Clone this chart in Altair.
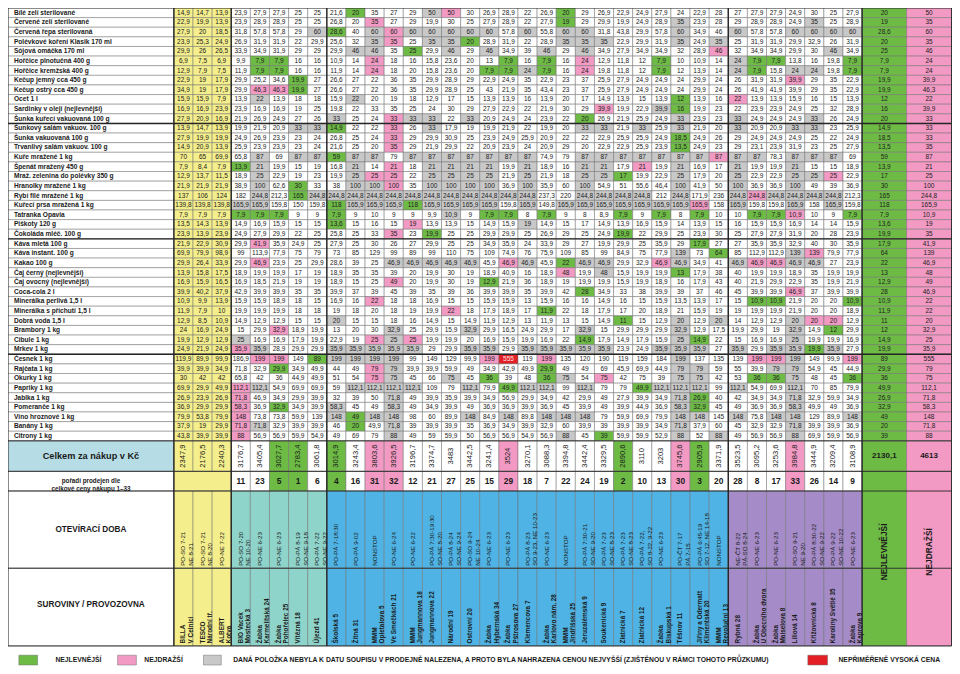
import altair as alt
import pandas as pd

# ---------------- data ----------------
products = [
    "Bílé zelí sterilované", "Červené zelí sterilované", "Červená řepa sterilovaná",
    "Polévkové koření Klasik 170 ml", "Sójová omáčka 170 ml", "Hořčice plnotučná 400 g",
    "Hořčice kremžská 400 g", "Kečup jemný cca 450 g", "Kečup ostrý cca 450 g", "Ocet 1 l",
    "Sardinky v oleji (nejlevnější)", "Šunka kuřecí vakuovaná 100 g", "Šunkový salám vakuov. 100 g",
    "Šunka vakuovaná 100 g", "Trvanlivý salám vakuov. 100 g", "Kuře mražené 1 kg",
    "Špenát mražený 450 g", "Mraž. zelenina do polévky 350 g", "Hranolky mražené 1 kg",
    "Rybí filé mražené 1 kg", "Kuřecí prsa mražená 1 kg", "Tatranka Opavia", "Piškoty 120 g",
    "Čokoláda mléč. 100 g", "Káva mletá 100 g", "Káva instant. 100 g", "Kakao 100 g",
    "Čaj černý (nejlevnější)", "Čaj ovocný (nejlevnější)", "Coca-cola 2 l",
    "Minerálka perlivá 1,5 l", "Minerálka s příchutí 1,5 l", "Dobrá voda 1,5 l", "Brambory 1 kg",
    "Cibule 1 kg", "Mrkev 1 kg", "Česnek 1 kg", "Rajčata 1 kg", "Okurky 1 kg", "Papriky 1 kg",
    "Jablka 1 kg", "Pomeranče 1 kg", "Víno hroznové 1 kg", "Banány 1 kg", "Citrony 1 kg",
]

prices = [
    [14.9,14.7,13.9,23.9,27.9,27.9,25,25, 21.6,20,35,27,29,50,50,30,26.9,28.9,22,26.9,20,29,26.9,22.9,24.9, 27.9,24,22.9,28,27,27.9,27.9,24.9,30,25,27.9],
    [22.9,19.9,13.9,23.9,28.9,28.9,25,25, 26.8,20,35,27,29,19.9,30,25,27.9,28.9,22,27.9,19,29,29.9,19.9,24.9, 28.9,35,23.9,28,29,28.9,28.9,24.9,35,25,28.9],
    [27.9,20,18.5,31.8,57.8,57.8,29,60, 28.6,40,60,60,60,60,60,60,60,57.8,60,55.8,60,60,31.8,43.8,29.9, 57.8,60,34.9,46,60,57.8,57.8,60,60,60,60],
    [23.9,25.3,24.9,26.9,31.9,31.9,22,29.9, 25.6,32,35,35,25,35,35,20,28.9,31.9,22,28.9,35,35,35,22.9,29.9, 31.9,35,24.9,35,25,31.9,31.9,29.9,32.9,26,31.9],
    [29.9,26,26.5,33.9,34.9,31.9,29,29, 29.9,46,46,35,25,29.9,46,29,46,34.9,39,46,29,46,34.9,27.9,34.9, 34.9,32,28.9,46,32,34.9,34.9,29.9,30,46,34.9],
    [6.9,7.5,6.9,9.9,7.9,7.9,16,16, 10.9,14,24,18,16,15.8,23.6,20,13,7.9,16,7.9,16,24,12.9,11.8,12, 7.9,10,10.9,14,24,7.9,7.9,13.8,16,19.8,7.9],
    [12.9,7.9,7.5,11.9,7.9,7.9,16,16, 11.9,14,24,18,20,15.8,23.6,20,7.9,7.9,24,7.9,16,24,19.8,11.8,12, 7.9,12,13.9,14,24,7.9,15.8,24,24,19.8,7.9],
    [22.9,19,17.9,29.9,25.2,34.6,19.9,27, 26.6,27,22,36,35,29.9,28.9,29,22.9,24.9,35,22.9,23,37,25.9,27.9,24.9, 24.9,24,29.9,24,26,31.9,31.9,39.9,29,35,22.9],
    [34.9,19,17.9,29.9,46.3,46.3,19.9,27, 26.6,27,22,36,35,29.9,28.9,25,43,21.9,35,43.4,23,37,25.9,27.9,24.9, 24.9,24,29.9,24,26,41.9,41.9,39.9,29,35,22.9],
    [15.9,15.9,7.9,13.9,22,13.9,18,18, 15.9,22,20,19,18,12.9,17,15,13.9,13.9,16,13.9,20,17,14.9,13.9,15, 13.9,12,13.9,16,22,13.9,13.9,15.9,16,15,13.9],
    [16.9,16.9,23.9,23.9,16.9,16.9,19,25, 19.8,22,33,35,25,24,30,29,27.9,22.9,22,21.9,30,29,39.9,19.9,22.9, 39.9,16,19.9,23,22,23.9,23.9,24.9,25,32,28.9],
    [27.9,20.9,16.9,21.9,26.9,24.9,27,26, 33,25,24,33,33,33,22,33,20.9,24.9,24,23.9,22,20,26.9,21.9,25.9, 24.9,33,23.9,23,33,24.9,24.9,24.9,33,26,24.9],
    [13.9,14.7,13.9,19.9,21.9,20.9,33,33, 14.9,22,22,33,26,33,17.9,19,19.9,21.9,22,19.9,20,33,33,21.9,33, 25.9,33,21.9,20,33,20.9,20.9,33,33,23,25.9],
    [27.9,19.9,19.9,24.9,26.9,23.9,23,24, 26.8,25,24,33,29,29.9,30.9,25,23.9,24.9,25.9,20.9,22,22,22.9,25.9,25.9, 24.9,18.5,24.9,26,29,24.9,24.9,24.9,25,22,24.9],
    [14.9,20.9,13.9,25.9,23.9,23.9,23,24, 21.6,25,20,35,29,21.9,29.9,22,20.9,23.9,24,20.9,29,20,22.9,22.9,25.9, 23.9,13.5,24.9,23,29,23.1,23.9,31.9,23,25,27.9],
    [70,65,69.9,65.8,87,69,87,87, 59,87,87,79,87,87,87,87,87,87,87,74.9,79,87,87,87,87, 87,87,87,87,87,87,78.3,87,87,87,69],
    [7.9,8.4,7.9,13.9,21,19.9,15,19, 16.8,21,14,21,18,21,21,21,21,19.9,21,18.9,16,21,21,17.9,21, 19.9,21,16.9,17,21,19.9,19.9,21,15,15,18.9],
    [12.9,13.7,11.5,18.9,25,22.9,19,23, 19.9,25,25,25,22,25,25,25,25,21.9,25,21.9,18,25,25,17,19.9, 22.9,25,17.9,20,25,22.9,22.9,25,25,25,22.9],
    [21.9,21.9,21.9,38.9,100,62.6,30,33, 38,100,100,100,35,100,100,100,100,36.9,100,35.9,60,100,54.9,51,55.6, 46.4,100,41.9,50,100,36.9,36.9,100,49,39,36.9],
    [137,106,124,182,244.8,212.3,165,244.8, 244.8,244.8,244.8,244.8,244.8,244.8,244.8,244.8,244.8,244.8,244.8,237.3,220,244.8,244.8,244.8,244.8, 212,244.8,171.9,236,244.8,244.8,244.8,244.8,244.8,244.8,212.3],
    [139.8,139.8,139.8,165.9,165.9,159.8,150,159.8, 118,165.9,165.9,165.9,118,165.9,165.9,165.9,165.9,159.8,165.9,149.8,165.9,165.9,165.9,165.9,165.9, 165.9,165.9,165.9,158,165.9,159.8,159.8,165.9,158,165.9,159.8],
    [7.9,7.9,7.9,7.9,7.9,7.9,9,9, 7.9,9,10,9,9,9.9,10.9,9,7.9,7.9,8,7.9,9,8,8.9,7.9,9, 7.9,8,7.9,10,10,7.9,7.9,10.9,10,9,7.9],
    [13.5,14.3,13.9,14.9,16.9,15.9,15,15, 13.6,15,16,15,19,13.9,13.9,15,14.9,15.9,19,14.9,15,17,14.9,13.9,16.9, 15.9,14,13.9,15,16,15.9,15.9,16.9,14,14,15.9],
    [23.9,13.9,23.9,24.9,27.9,29.9,22,25, 25.8,25,33,35,23,19.9,25,25,29.9,29.9,25,26.9,29,25,24.9,19.9,22, 29.9,25,23.9,30,25,27.9,27.9,31.9,20,28,23.9],
    [21.9,22.9,30.9,29.9,41.9,35.9,24.9,25, 27.9,25,30,26,27,29.9,25,25,34.9,35.9,24,33.9,29,27,19.9,29.9,25, 35.9,29,17.9,27,27,35.9,35.9,32.9,40,30,35.9],
    [69.9,79.9,98.9,99,113.9,77.9,75,79, 73,85,129,99,89,99,110,75,109,74.9,76,75.9,109,85,99,84.9,75, 77.9,139,73,64,85,112.9,112.9,139,139,79.9,77.9],
    [29.9,26.4,33.9,29.9,46.9,23.9,25,29.9, 28.6,39,25,46.9,46.9,46.9,46.9,46.9,45.9,46.9,46.9,45.9,22,46.9,46.9,29.9,32.9, 46.9,46.9,34.9,41,46.9,46.9,46.9,46.9,46.9,27,23.9],
    [13.9,15.8,17.5,18.9,19.9,19.9,17,19, 18.9,35,35,39,20,19.9,30,19,18.9,40.9,16,18.9,48,19.9,48,15.9,19.9, 19.9,13,17.9,38,40,19.9,19.9,18.9,35,19.9,19.9],
    [16.9,15.9,16.5,16.9,18.5,21.9,19,19, 18.9,15,25,49,20,19.9,30,19,12.9,21.9,36,18.9,19,19.9,19.9,15.9,19.9, 18.9,16,17.9,43,40,21.9,29.9,22.9,35,19.9,21.9],
    [39.9,40.2,37.9,42.9,39.9,39.9,35,35, 39.9,37,39,45,39,35,39,36,39.9,39.9,35,39.9,42,28,34.9,33,38, 39.9,39,37,46,45,39.9,39.9,46.9,37,39.9,39.9],
    [10.9,9.9,13.9,15.9,15.9,18.9,18,15, 16.9,16,22,18,18,16.9,15,15,15.9,15.9,13,15.9,16,16,14.9,16,15, 15.9,13.5,13.9,17,15,10.9,10.9,21.9,20,20,10.9],
    [11.9,7.9,10,19.9,19.9,19.9,18,18, 19,18,20,18,19,19.9,22,18,17.9,18.9,17,11.9,22,18,17.9,17,20, 18.9,21,15.9,19,19,19.9,19.9,21.9,20,20,18.9],
    [12.9,8.5,10.9,14.9,12.9,12.9,15,15, 20,15,15,18,16,14.9,15,14.9,11.9,12.9,13,11.9,13,15,14.9,11,15, 12.9,20,12.9,20,14,12.9,12.9,20,20,20,12.9],
    [24,16.9,24.9,15,29.9,32.9,18.9,19.9, 13,20,30,32.9,25,29.9,15.9,32.9,29.9,16.5,24.9,29.9,17,32.9,15,29.9,29.9, 29.9,32.9,12.9,17.5,19.9,29.9,19,32.9,14.9,12,29.9],
    [19.9,12.9,12.9,25,16.9,16.9,17.9,19.9, 22.9,19,25,25,25,19.9,19.9,20,16.9,15.9,19.9,16.9,22,14.9,17.9,14.9,17.9, 15.9,25,14.9,22,15,16.9,16.9,25,19.9,19.9,16.9],
    [24.9,21.9,24.9,35.9,35.9,28.9,29.9,29.9, 35.9,35.9,35.9,35.9,35.9,29,29.9,35.9,35.9,29.9,35.9,35.9,35.9,35.9,35.9,23.9,24.9, 35.9,35.9,35.9,27,35.9,29.9,35.9,35.9,19.9,35.9,27.9],
    [119.9,89.9,99.9,186.9,199,199,149,89, 199,199,199,199,99,149,129,99.9,199,555,119,199,135,120,190,119,159, 184,199,137,135,139,199,199,199,149,99.9,199],
    [39.9,39.9,34.9,71.8,32.9,29.9,34.9,49.9, 44,49,79,79,39.9,39.9,59.9,49,34.9,42.9,49.9,29.9,49,49,69,45.9,69.9, 44.9,79,79,59,55,39.9,79,79,54.9,45,44.9],
    [30,42,42,65.8,42,36,44.9,49.9, 51,54,75,75,45,66,75,45,36,39,48,36,75,54,75,42,75, 39,75,75,42,53,36,36,75,48,45,36],
    [69.9,29.9,49.9,112.1,112.1,54.9,69.9,69.9, 59,112.1,112.1,112.1,112.1,109,79,112.1,79.9,49.9,112.1,112.1,99,112.1,79,79,49.9, 112.1,112.1,112.1,99,112.1,54.9,69.9,112.1,70,85,79.9],
    [26.9,23.9,26.9,71.8,46.9,34.9,29.9,39.9, 32,39,50,71.8,49,39.9,35.9,39.9,34.9,56.9,29.9,34.9,42,29.9,49,27.9,39.9, 34.9,71.8,26.9,40,42,34.9,34.9,71.8,32.9,59.9,34.9],
    [36.9,29.9,29.9,58.3,36.9,32.9,34.9,39.9, 58.3,45,49,58.3,49,34.9,39.9,49,36.9,36.9,39.9,36.9,45,39.9,49,39.9,44.9, 36.9,58.3,32.9,45,49,36.9,36.9,58.3,49.9,49,36.9],
    [79.9,53.8,79.9,148,73.8,73.8,59.9,139, 148,49,148,148,98,60,89.9,148,84.9,148,89.8,148,148,148,79,59.9,69.9, 79.9,148,148,145,148,75.8,148,148,129,89.9,148],
    [37.9,19,29.9,71.8,71.8,32.9,39.9,39.9, 46,20,49.9,71.8,39,39.9,39.9,35,36.9,34.9,39.9,32.9,60,39.9,39,39.9,39.9, 34.9,71.8,37.9,60,45,32.9,32.9,71.8,39.9,39.9,36.9],
    [43.8,39.9,39.9,88,56.9,56.9,59.9,54.9, 49,69,79,88,49,59,59.9,50,56.9,56.9,54.9,56.9,88,45,39,59.9,59.9, 52.9,88,52,88,49,56.9,56.9,88,69.9,59.9,56.9],
]

# status of a cell: g = cheapest, p = most expensive, s = not found (replaced), r = unreasonable
flags = [
    "10g 14s 15p 21g", "11p 21g 27s 34s",
    "8s 9g 11s 12p 13s 14s 15s 16s 17s 19s 21s 22s 27s 30s 33s 34s 35s 36s",
    "11s 12p 14s 15s 16g 21s 22s 23s 27s 29s", "10s 11s 13g 15s 17s 20s 22s 29p 35s",
    "5g 6g 11p 18g 20g 22p 26g 30s 31g 32g 36g",
    "5g 6g 11p 17g 18g 19s 20g 22p 26g 30s 31g 33s 34s 36g",
    "7g 33p", "5p 6p 7g", "5s 10s 27g 30p", "23p 26s 27g",
    "9s 12p 13s 14s 16s 22g 27s 30s 34s",
    "7s 8s 9g 12p 14s 22s 23s 25s 27s 30s 33s 34s",
    "12p 27g", "12p 27g",
    "5s 7s 8s 9g 10s 11s 13s 14s 15s 16s 17s 18s 19s 22s 23s 24s 25s 26s 27s 28s 29p 30s 31s 33s 34s 35s",
    "4g 5s 10s 12p 14s 15s 16s 17s 19s 22s 23s 25p 27s 30s 33s",
    "5s 10s 11p 12p 14s 15s 16s 17s 19s 22s 23s 24g 27s 30s 33s 34s 35p",
    "5s 7g 10s 11s 12p 14s 15s 16s 17s 19s 22s 27s 30s 33s",
    "5s 7g 8s 9s 10s 11s 12s 13s 14s 15s 16s 17s 18s 19s 22s 23s 24s 25s 27s 30s 31p 32s 33s 34s 35s",
    "4s 5s 9g 10s 11s 12s 13g 14s 15s 16s 17s 19s 21s 22s 23s 24s 25s 26s 27s 28p 30s 33s 35s",
    "4g 5g 6g 9g 15s 17g 18g 20g 24g 26g 28g 31g 32g 33p 36g",
    "9g 13p 19s", "12p 14g 24g", "5p 28g", "27s 29g 33s 34p",
    "5p 12s 13s 14s 15s 16s 18p 19s 21g 22s 23s 26p 27s 30s 31p 32p 33s 34s",
    "21p 23s 27g", "12p 17g", "22g 33p", "11p 31g 32g 36g", "15p 20g",
    "9s 24g 27s 29s 33s 34p 35p", "6p 12s 16s 22s 27s 33s 35g",
    "4s 11p 12s 13p 22g 27s 28g 33s",
    "4p 5s 9s 10s 11s 12s 13s 16s 17s 19s 20s 21s 22s 23s 26s 27s 28s 30s 32s 33s 34g 35s",
    "5p 6p 8g 9s 10s 11s 12s 17p 18r 20p 27s 31p 32p 33s 36p",
    "6g 11p 12s 20g 27s 28s 32s 33s",
    "11p 12s 15s 17g 20g 21s 23p 27s 28s 31g 32g 33s 36g",
    "4p 5s 10s 11s 12s 13s 16s 18g 19s 20s 22s 25g 26s 27s 28s 30s 33s",
    "4p 12s 27s 28g 33s", "4p 6g 9s 12s 27s 28g 33s",
    "4p 9s 10g 11s 12s 16s 18s 20s 21s 22s 27s 28s 30s 32s 33s 36s",
    "4p 5s 10g 12s 27s 33s", "4p 12s 21s 23g 27s 29s 33s",
]

row_min = [20,19,28.6,20,25,7.9,7.9,19.9,19.9,12,16,20,14.9,18.5,13.5,59,13.9,17,30,165,118,7.9,13.6,19.9,
           17.9,64,22,13,12.9,28,10.9,11.9,11,12,14.9,19.9,89,29.9,36,49.9,26.9,32.9,49,20,39]
row_max = [50,35,60,35,46,24,24,39.9,46.3,22,39.9,33,33,33,35,87,21,25,100,244.8,165.9,10.9,19,35,41.9,139,
           46.9,48,49,46.9,22,22,20,32.9,25,35.9,555,79,75,112.1,71.8,58.3,148,71.8,88]

stores = [
    "BILLA\nV Celnici", "TESCO\nNárodní tř.", "ALBERT\nKotva", "BIO Vacek\nMostecká 3",
    "Žabka\nKarmelitská 24", "Žabka\nPohořelec 25", "Vítězná 18", "Újezd 41", "Školská 5",
    "Žitná 31", "MMM\nOpletalova 5", "Ve Smečkách 21", "MMM\nJungmannova 18", "Jungmannova 22",
    "Národní 19", "Ostrovní 20", "Žabka\nHybernská 34", "Žabka\nPštrosova 27", "Klemencova 7",
    "Žabka\nKarlovo nám. 28", "MMM\nJindřišská 25", "Jeruzalémská 9", "Soukenická 9",
    "Zlatnická 7", "Zlatnická 12", "Žabka\nBiskupská 1", "Těšnov 11",
    "Jiřiny a Odermatt\nKlimentská 20", "MMM\nRevoluční 13", "Rybná 28", "Žabka\nU Obecního dvora",
    "Žabka\nMaiselova 8", "Liliová 14", "Křižovnická 8", "Karoliny Světlé 35", "Žabka\nKaprova 9",
]
store_group = ["chain"] * 3 + ["teal"] * 5 + ["blue"] * 21 + ["purple"] * 7

hours = [
    "PO-SO 7-21\nNE 8-21", "PO-SO 7-21\nNE 8-20", "PO-NE 7-22", "PO-SO 7-20\nNE 10-20",
    "PO-NE 6-23", "PO-NE 6-23", "PO-PÁ 8-19\nSO-NE 9-18", "PO-PÁ 7-22\nSO-NE 9-22",
    "PO-PÁ 7-18:30", "PO-PÁ 9-02", "NONSTOP", "PO-NE 6-24", "PO-NE 6-22",
    "PO-PÁ 7:30-19:30\nSO-NE 8-20", "PO-PÁ 8-24\nSO-NE 9-24", "PO-SO 9-24\nNE 10-24",
    "PO-NE 6-23", "PO-NE 6-23", "PO-PÁ 8-23\nSO 9-23, NE 10-23", "PO-NE 6-23", "NONSTOP",
    "PO-PÁ 7:30-21\nSO-NE 9-20", "PO-PÁ 7-23\nSO-NE 8-23", "PO-PÁ 7-23\nSO-NE 8-23",
    "PO-PÁ 7-22,\nSO 8-22, 9-22", "PO-NE 6-23", "PO-ČT 7-17\nPÁ 7-15",
    "PO-PÁ 6:45-19\nSO 7-12, NE 14-18", "NONSTOP", "NE-ČT 8-22\nPÁ-SO 8-24", "PO-NE 6-23",
    "PO-NE 6-23", "PO-SO 9-21\nNE 9-20", "PO-PÁ 8:30-22\nSO-NE 9-22", "PO-PÁ 9-22\nSO-NE 10-22",
    "PO-NE 6-23",
]

totals = [2347.9, 2176.5, 2240.3, 3176.7, 3405.4, 3027.7, 2783.4, 3061.8, 3014.9, 3243.4, 3803.6,
          3926.5, 3196.7, 3374.7, 3483, 3442.5, 3241.4, 3524, 3270.1, 3088.3, 3394.8, 3442.4, 3329.5,
          2890.6, 3110, 3203, 3745.6, 2905.9, 3371.9, 3523.5, 3095.2, 3253.6, 3984.8, 3444.9, 3209.4,
          3108.9]
total_min = 2130.1
total_max = 4613
ranks = [11, 23, 5, 1, 6, 4, 16, 31, 32, 12, 21, 27, 25, 15, 29, 18, 7, 22, 24, 19, 2, 10, 13, 30, 3,
         20, 28, 8, 17, 33, 26, 14, 9]

legend_items = [
    ("g", "NEJLEVNĚJŠÍ"), ("p", "NEJDRAŽŠÍ"),
    ("s", "DANÁ POLOŽKA NEBYLA K DATU SOUPISU V PRODEJNĚ NALEZENA, A PROTO BYLA NAHRAZENA CENOU NEJVYŠŠÍ (ZJIŠTĚNOU V RÁMCI TOHOTO PRŮZKUMU)"),
    ("r", "NEPŘIMĚŘENĚ VYSOKÁ CENA"),
]

# ---------------- styling / layout ----------------
for r in prices:
    assert len(r) == 36, r
FONT = "Liberation Sans"
C = {"g": "#6dbb45", "p": "#f29ac4", "s": "#c8c8c8", "r": "#e31e25", ".": "#ffffff",
     "chain": "#f4ee8c", "teal": "#8fd4ca", "blue": "#4fb4e5", "purple": "#a58cc8",
     "head": "#b6dde6"}
N = 36
X0, XL, CW = 2.0, 170.0, 19.36
XR = XL + N * CW
NJ1 = (XR, 912.0)
NJ2 = (912.0, 957.5)
Y0, RH = 3.0, 9.78
YB = Y0 + 45 * RH
YT = (YB, YB + 31.0)
YR = (YT[1], YT[1] + 20.0)
YH = (YR[1], YR[1] + 78.5)
YS = (YH[1], YH[1] + 79.0)


def fmt(v):
    v = float(v)
    if v.is_integer():
        return str(int(v))
    return ("%.1f" % v).replace(".", ",")


def parse(s):
    d = {}
    for tok in s.split():
        d[int(tok[:-1]) - 1] = tok[-1]
    return d


def cxl(c):
    return XL + c * CW


rects, body, labels = [], [], []
for r in range(45):
    ya, yb = Y0 + r * RH, Y0 + (r + 1) * RH
    ym = (ya + yb) / 2
    rects.append(dict(x=X0, x2=XL, y=ya, y2=yb, fill="#ffffff"))
    labels.append(dict(x=X0 + 6, y=ym, t=products[r]))
    fl = parse(flags[r])
    for c in range(N):
        code = fl.get(c, ".")
        fill = C["chain"] if c < 3 else C[code]
        rects.append(dict(x=cxl(c), x2=cxl(c + 1), y=ya, y2=yb, fill=fill))
        body.append(dict(x=cxl(c) + CW / 2, y=ym, t=fmt(prices[r][c]),
                         tc="#ffe0e0" if code == "r" else "#222222"))
    rects.append(dict(x=NJ1[0], x2=NJ1[1], y=ya, y2=yb, fill=C["g"]))
    rects.append(dict(x=NJ2[0], x2=NJ2[1], y=ya, y2=yb, fill=C["p"]))
    body.append(dict(x=sum(NJ1) / 2, y=ym, t=fmt(row_min[r]), tc="#222222"))
    body.append(dict(x=sum(NJ2) / 2, y=ym, t=fmt(row_max[r]), tc="#222222"))


def rank_fill(c):
    if c < 3:
        return C["chain"]
    k = ranks[c - 3]
    return C["g"] if k <= 5 else (C["p"] if k >= 29 else "#ffffff")


heads = []
# totals row
rects.append(dict(x=X0, x2=XL, y=YT[0], y2=YT[1], fill=C["head"]))
heads.append(dict(x=(X0 + XL) / 2, y=sum(YT) / 2, t="Celkem za nákup v Kč", s=9.2, a=0))
tot_txt = []
for c in range(N):
    rects.append(dict(x=cxl(c), x2=cxl(c + 1), y=YT[0], y2=YT[1], fill=rank_fill(c)))
    tot_txt.append(dict(x=cxl(c) + CW / 2, y=sum(YT) / 2, t=fmt(totals[c])))
rects.append(dict(x=NJ1[0], x2=NJ1[1], y=YT[0], y2=YT[1], fill=C["g"]))
rects.append(dict(x=NJ2[0], x2=NJ2[1], y=YT[0], y2=YT[1], fill=C["p"]))
tot_ext = [dict(x=sum(NJ1) / 2, y=sum(YT) / 2, t=fmt(total_min)),
           dict(x=sum(NJ2) / 2, y=sum(YT) / 2, t=fmt(total_max))]

# rank row
rects.append(dict(x=X0, x2=XL, y=YR[0], y2=YR[1], fill="#ffffff"))
heads.append(dict(x=(X0 + XL) / 2, y=sum(YR) / 2,
                  t="pořadí prodejen dle\ncelkové ceny nákupu  1–33", s=6.3, a=0))
rects.append(dict(x=cxl(0), x2=cxl(3), y=YR[0], y2=YR[1], fill=C["chain"]))
rank_txt = []
for c in range(3, N):
    rects.append(dict(x=cxl(c), x2=cxl(c + 1), y=YR[0], y2=YR[1], fill=rank_fill(c)))
    rank_txt.append(dict(x=cxl(c) + CW / 2, y=sum(YR) / 2, t=str(ranks[c - 3])))
rects.append(dict(x=NJ1[0], x2=NJ1[1], y=YR[0], y2=YS[1], fill=C["g"]))
rects.append(dict(x=NJ2[0], x2=NJ2[1], y=YR[0], y2=YS[1], fill=C["p"]))
heads.append(dict(x=sum(NJ1) / 2, y=556, t="NEJLEVNĚJŠÍ", s=8.4, a=270))
heads.append(dict(x=sum(NJ2) / 2, y=556, t="NEJDRAŽŠÍ", s=8.4, a=270))

# opening hours + store rows
rects.append(dict(x=X0, x2=XL, y=YH[0], y2=YH[1], fill="#ffffff"))
rects.append(dict(x=X0, x2=XL, y=YS[0], y2=YS[1], fill="#ffffff"))
heads.append(dict(x=(X0 + XL) / 2, y=sum(YH) / 2, t="OTEVÍRACÍ DOBA", s=8.2, a=0))
heads.append(dict(x=(X0 + XL) / 2, y=sum(YS) / 2 - 2, t="SUROVINY / PROVOZOVNA", s=8.2, a=0))
hrs_txt, sto_txt = [], []
for c in range(N):
    g = C[store_group[c]]
    rects.append(dict(x=cxl(c), x2=cxl(c + 1), y=YH[0], y2=YH[1], fill=g))
    rects.append(dict(x=cxl(c), x2=cxl(c + 1), y=YS[0], y2=YS[1], fill=g))
    hrs_txt.append(dict(x=cxl(c) + CW / 2, y=YH[1] - 2.5, t=hours[c]))
    sto_txt.append(dict(x=cxl(c) + CW / 2, y=YS[1] - 2.5, t=stores[c]))

# legend
leg_box_x = [(13, 32), (113, 132), (200, 218), (812, 832)]
leg_txt_x = [50, 140, 230, 843]
leg_txt = []
for (code, txt), (a, b), tx in zip(legend_items, leg_box_x, leg_txt_x):
    rects.append(dict(x=a, x2=b, y=661, y2=671, fill=C[code]))
    leg_txt.append(dict(x=tx, y=666, t=txt))

# separator lines
rules = []
for xv in [XL, cxl(3), cxl(8), cxl(29), XR]:
    rules.append(dict(x=xv, x2=xv, y=Y0, y2=YS[1], w=1.4))
for rr in [12, 24, 36]:
    yv = Y0 + rr * RH
    rules.append(dict(x=X0, x2=NJ2[1], y=yv, y2=yv, w=1.4))
for yv in [Y0, YB, YT[1], YR[1], YH[1], YS[1]]:
    rules.append(dict(x=X0, x2=NJ2[1], y=yv, y2=yv, w=0.9))
for xv in [X0, NJ2[1]]:
    rules.append(dict(x=xv, x2=xv, y=Y0, y2=YS[1], w=0.9))

# ---------------- chart ----------------
xs = alt.Scale(domain=[2, 958], nice=False, zero=False)
ys = alt.Scale(domain=[3, 672], nice=False, zero=False, reverse=True)
X = alt.X("x:Q", scale=xs, axis=None)
Y = alt.Y("y:Q", scale=ys, axis=None)

rect_layer = alt.Chart(pd.DataFrame(rects)).mark_rect(stroke="#707070", strokeWidth=0.5).encode(
    x=X, x2="x2:Q", y=Y, y2="y2:Q", fill=alt.Fill("fill:N", scale=None))
rule_layer = alt.Chart(pd.DataFrame(rules)).mark_rule(color="#262626").encode(
    x=X, x2="x2:Q", y=Y, y2="y2:Q", strokeWidth=alt.StrokeWidth("w:Q", scale=None))
body_layer = alt.Chart(pd.DataFrame(body)).mark_text(
    font=FONT, fontSize=6.5, align="center", baseline="middle").encode(
    x=X, y=Y, text="t:N", color=alt.Color("tc:N", scale=None))
label_layer = alt.Chart(pd.DataFrame(labels)).mark_text(
    font=FONT, fontSize=6.6, fontWeight="bold", align="left", baseline="middle", color="#1a1a1a").encode(
    x=X, y=Y, text="t:N")
tot_layer = alt.Chart(pd.DataFrame(tot_txt)).mark_text(
    font=FONT, fontSize=7.6, angle=270, align="center", baseline="middle", color="#1a1a1a").encode(
    x=X, y=Y, text="t:N")
tot_ext_layer = alt.Chart(pd.DataFrame(tot_ext)).mark_text(
    font=FONT, fontSize=8, fontWeight="bold", align="center", baseline="middle", color="#1a1a1a").encode(
    x=X, y=Y, text="t:N")
rank_layer = alt.Chart(pd.DataFrame(rank_txt)).mark_text(
    font=FONT, fontSize=8.4, fontWeight="bold", align="center", baseline="middle", color="#1a1a1a").encode(
    x=X, y=Y, text="t:N")
hrs_layer = alt.Chart(pd.DataFrame(hrs_txt)).mark_text(
    font=FONT, fontSize=6.2, angle=270, align="left", baseline="middle", lineBreak="\n",
    lineHeight=7.6, color="#1a1a1a").encode(x=X, y=Y, text="t:N")
sto_layer = alt.Chart(pd.DataFrame(sto_txt)).mark_text(
    font=FONT, fontSize=6.4, fontWeight="bold", angle=270, align="left", baseline="middle",
    lineBreak="\n", lineHeight=7.4, color="#1a1a1a").encode(x=X, y=Y, text="t:N")
head_layer = alt.Chart(pd.DataFrame(heads)).mark_text(
    font=FONT, fontWeight="bold", align="center", baseline="middle", lineBreak="\n",
    lineHeight=8, color="#1a1a1a").encode(
    x=X, y=Y, text="t:N", size=alt.Size("s:Q", scale=None), angle=alt.Angle("a:Q", scale=None))
leg_layer = alt.Chart(pd.DataFrame(leg_txt)).mark_text(
    font=FONT, fontSize=6.8, fontWeight="bold", align="left", baseline="middle", color="#1a1a1a").encode(
    x=X, y=Y, text="t:N")

chart = alt.layer(
    rect_layer, rule_layer, body_layer, label_layer, tot_layer, tot_ext_layer, rank_layer,
    hrs_layer, sto_layer, head_layer, leg_layer,
).properties(
    width=944, height=658, padding=0, autosize=alt.AutoSizeParams(type="none")
).configure_view(stroke=None)

chart.save("out.html", embed_options={"renderer": "svg", "actions": False})
